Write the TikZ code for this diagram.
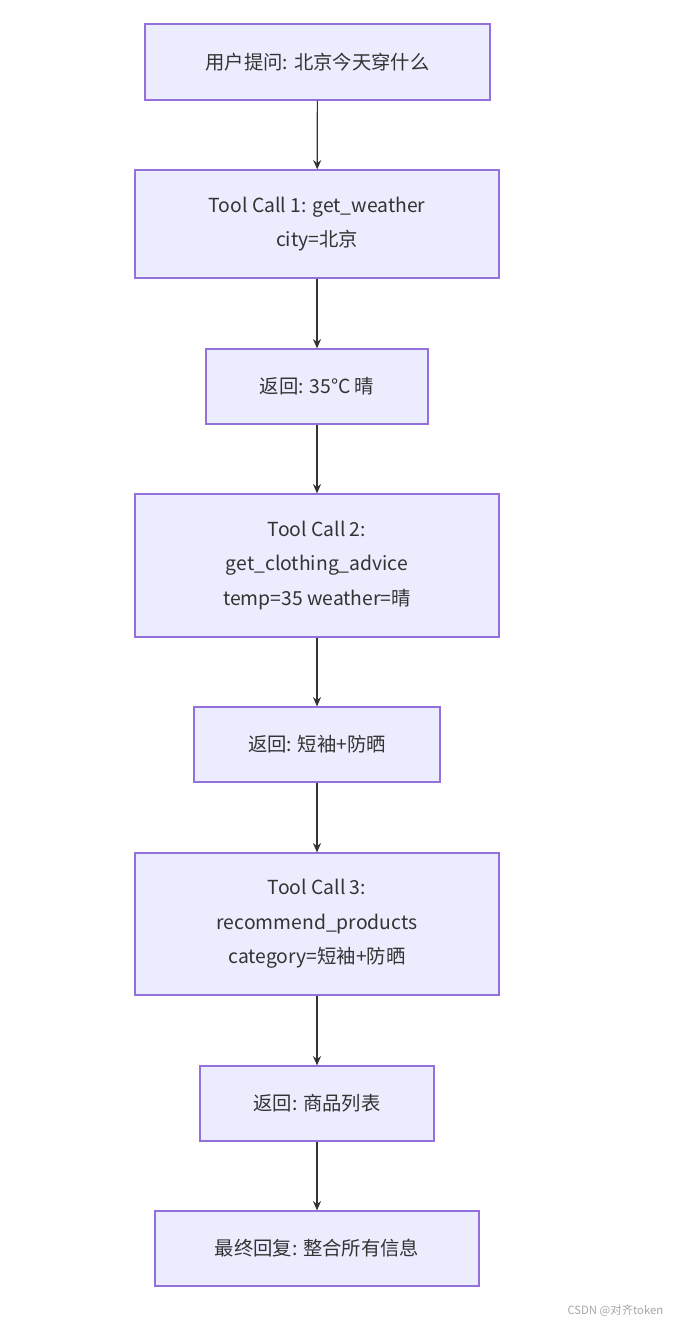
\documentclass[tikz,border=0pt]{standalone}
\usepackage{fontspec}
\setmainfont{Noto Sans CJK SC}
\usetikzlibrary{arrows.meta}
\definecolor{boxfill}{HTML}{ECECFF}
\definecolor{boxline}{HTML}{9370DB}
\definecolor{txt}{HTML}{333333}
\tikzset{
  stage/.style={draw=boxline, fill=boxfill, text=txt, line width=0.9pt, align=center,
    font=\fontsize{14.5}{26}\selectfont, inner sep=0pt},
  flow/.style={-{Stealth[length=7pt,width=6pt]}, line width=0.9pt, draw=txt}
}
\begin{document}
\begin{tikzpicture}[x=0.75pt, y=-0.75pt]
  \useasboundingbox (0,0) rectangle (674,1326);
  % Steps
  \node[stage, minimum width=345*0.75pt, minimum height=76*0.75pt] (ask) at (317.5,62) {用户提问: 北京今天穿什么};
  \node[stage, minimum width=364*0.75pt, minimum height=108*0.75pt] (call1) at (317,224) {Tool Call 1: get\_weather\\city=北京};
  \node[stage, minimum width=222*0.75pt, minimum height=75*0.75pt] (ret1) at (317,386.5) {返回: 35°C 晴};
  \node[stage, minimum width=364*0.75pt, minimum height=143*0.75pt] (call2) at (317,565.5) {Tool Call 2:\\get\_clothing\_advice\\temp=35 weather=晴};
  \node[stage, minimum width=246*0.75pt, minimum height=75*0.75pt] (ret2) at (317,744.5) {返回: 短袖+防晒};
  \node[stage, minimum width=364*0.75pt, minimum height=142*0.75pt] (call3) at (317,924) {Tool Call 3:\\recommend\_products\\category=短袖+防晒};
  \node[stage, minimum width=234*0.75pt, minimum height=75*0.75pt] (ret3) at (317,1103.5) {返回: 商品列表};
  \node[stage, minimum width=324*0.75pt, minimum height=75*0.75pt] (reply) at (317,1248.5) {最终回复: 整合所有信息};
  % Connectors
  \foreach \a/\b in {ask/call1, call1/ret1, ret1/call2, call2/ret2, ret2/call3, call3/ret3, ret3/reply}
    \draw[flow] (\a) -- (\b);
  \node[text=gray!70, font=\fontsize{8.5}{10}\selectfont, anchor=east] (mark) at (668,1311) {CSDN @对齐token};
\end{tikzpicture}
\end{document}
